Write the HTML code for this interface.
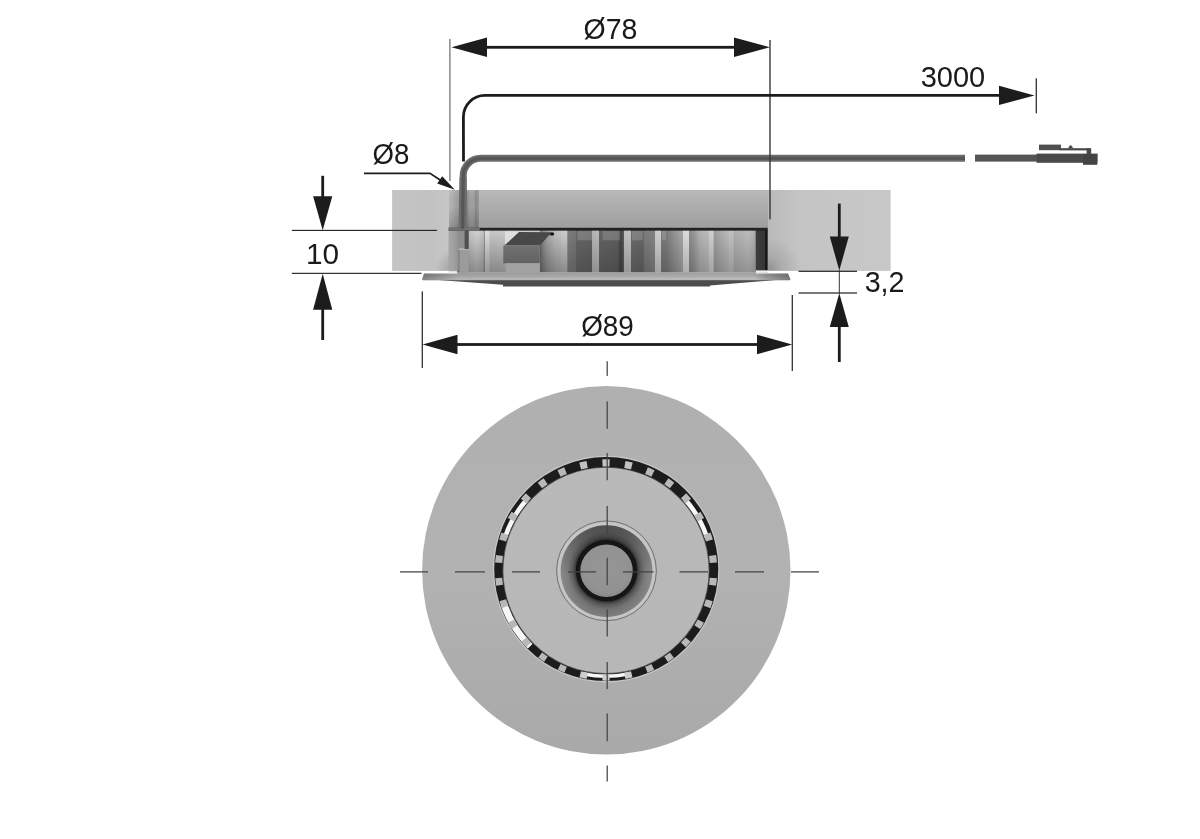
<!DOCTYPE html>
<html lang="en">
<head>
<meta charset="utf-8">
<title>Dimensional drawing</title>
<style>
html,body{margin:0;padding:0;background:#fff;}
body{width:1200px;height:839px;overflow:hidden;}
svg{display:block;}
text{font-family:"Liberation Sans",Arial,sans-serif;fill:#1a1a1a;}
#dimensions{opacity:0.999;}
</style>
</head>
<body>
<svg width="1200" height="839" viewBox="0 0 1200 839" role="img" aria-label="Dimensional drawing">
<defs>
<linearGradient id="gBoardMid" x1="0" y1="190" x2="0" y2="229" gradientUnits="userSpaceOnUse"><stop offset="0" stop-color="#b9b9b9"/><stop offset="1" stop-color="#9e9e9e"/></linearGradient>
<linearGradient id="gHole" x1="449" y1="0" x2="479" y2="0" gradientUnits="userSpaceOnUse"><stop offset="0" stop-color="#bababa"/><stop offset="0.3" stop-color="#9e9e9e"/><stop offset="0.62" stop-color="#8e8e8e"/><stop offset="0.7" stop-color="#a2a2a2"/><stop offset="0.84" stop-color="#a0a0a0"/><stop offset="0.88" stop-color="#8a8a8a"/><stop offset="1" stop-color="#9a9a9a"/></linearGradient>
<linearGradient id="gBoardL" x1="392" y1="0" x2="458" y2="0" gradientUnits="userSpaceOnUse"><stop offset="0" stop-color="#c4c4c4"/><stop offset="0.6" stop-color="#c2c2c2"/><stop offset="0.9" stop-color="#c6c6c6"/><stop offset="1" stop-color="#c8c8c8"/></linearGradient>
<linearGradient id="gBoardR" x1="768" y1="0" x2="890" y2="0" gradientUnits="userSpaceOnUse"><stop offset="0" stop-color="#bababa"/><stop offset="0.25" stop-color="#c4c4c4"/><stop offset="1" stop-color="#c8c8c8"/></linearGradient>
<linearGradient id="gSink" x1="457.3" y1="0" x2="767.7" y2="0" gradientUnits="userSpaceOnUse"><stop offset="0.0000" stop-color="#818181"/><stop offset="0.0039" stop-color="#9a9a9a"/><stop offset="0.0361" stop-color="#a0a0a0"/><stop offset="0.0370" stop-color="#bebebe"/><stop offset="0.0635" stop-color="#cecece"/><stop offset="0.0841" stop-color="#bebebe"/><stop offset="0.0860" stop-color="#959595"/><stop offset="0.0886" stop-color="#959595"/><stop offset="0.0899" stop-color="#dcdcdc"/><stop offset="0.1031" stop-color="#d8d8d8"/><stop offset="0.1047" stop-color="#c2c2c2"/><stop offset="0.1505" stop-color="#c6c6c6"/><stop offset="0.1569" stop-color="#d0d0d0"/><stop offset="0.2648" stop-color="#cacaca"/><stop offset="0.2664" stop-color="#757575"/><stop offset="0.2729" stop-color="#838383"/><stop offset="0.2890" stop-color="#a2a2a2"/><stop offset="0.3148" stop-color="#bababa"/><stop offset="0.3341" stop-color="#c2c2c2"/><stop offset="0.3354" stop-color="#c6c6c6"/><stop offset="0.3544" stop-color="#cacaca"/><stop offset="0.3553" stop-color="#7b7b7b"/><stop offset="0.3818" stop-color="#757575"/><stop offset="0.3837" stop-color="#656565"/><stop offset="0.4330" stop-color="#616161"/><stop offset="0.4340" stop-color="#b2b2b2"/><stop offset="0.4565" stop-color="#b8b8b8"/><stop offset="0.4575" stop-color="#636363"/><stop offset="0.5177" stop-color="#5d5d5d"/><stop offset="0.5226" stop-color="#494949"/><stop offset="0.5290" stop-color="#474747"/><stop offset="0.5364" stop-color="#5b5b5b"/><stop offset="0.5374" stop-color="#bcbcbc"/><stop offset="0.5596" stop-color="#c0c0c0"/><stop offset="0.5606" stop-color="#696969"/><stop offset="0.5983" stop-color="#656565"/><stop offset="0.6031" stop-color="#797979"/><stop offset="0.6363" stop-color="#838383"/><stop offset="0.6372" stop-color="#cacaca"/><stop offset="0.6569" stop-color="#cecece"/><stop offset="0.6579" stop-color="#777777"/><stop offset="0.6724" stop-color="#797979"/><stop offset="0.7014" stop-color="#939393"/><stop offset="0.7265" stop-color="#a6a6a6"/><stop offset="0.7274" stop-color="#d8d8d8"/><stop offset="0.7465" stop-color="#dcdcdc"/><stop offset="0.7474" stop-color="#898989"/><stop offset="0.7626" stop-color="#959595"/><stop offset="0.7819" stop-color="#b0b0b0"/><stop offset="0.8096" stop-color="#bababa"/><stop offset="0.8106" stop-color="#cccccc"/><stop offset="0.8251" stop-color="#cecece"/><stop offset="0.8260" stop-color="#9a9a9a"/><stop offset="0.8528" stop-color="#acacac"/><stop offset="0.8747" stop-color="#b8b8b8"/><stop offset="0.8756" stop-color="#c0c0c0"/><stop offset="0.8895" stop-color="#bebebe"/><stop offset="0.8905" stop-color="#acacac"/><stop offset="0.9288" stop-color="#b6b6b6"/><stop offset="0.9301" stop-color="#bababa"/><stop offset="0.9494" stop-color="#b4b4b4"/><stop offset="0.9604" stop-color="#a8a8a8"/><stop offset="0.9613" stop-color="#3c3c3c"/><stop offset="0.9913" stop-color="#363636"/><stop offset="0.9932" stop-color="#141414"/><stop offset="1.0000" stop-color="#141414"/></linearGradient>
<linearGradient id="gSinkV" x1="0" y1="231" x2="0" y2="272" gradientUnits="userSpaceOnUse"><stop offset="0" stop-color="#000" stop-opacity="0"/><stop offset="0.06" stop-color="#000" stop-opacity="0"/><stop offset="1" stop-color="#000" stop-opacity="0.2"/></linearGradient>
<linearGradient id="gFl" x1="0" y1="272" x2="0" y2="281" gradientUnits="userSpaceOnUse"><stop offset="0" stop-color="#9e9e9e"/><stop offset="0.5" stop-color="#acacac"/><stop offset="0.8" stop-color="#c0c0c0"/><stop offset="1" stop-color="#a0a0a0"/></linearGradient>
<linearGradient id="gFlH" x1="422" y1="0" x2="791" y2="0" gradientUnits="userSpaceOnUse"><stop offset="0" stop-color="#000" stop-opacity="0.3"/><stop offset="0.1" stop-color="#000" stop-opacity="0.04"/><stop offset="0.9" stop-color="#000" stop-opacity="0"/><stop offset="0.93" stop-color="#000" stop-opacity="0.15"/><stop offset="1" stop-color="#000" stop-opacity="0.35"/></linearGradient>
<linearGradient id="gCable" x1="0" y1="154.6" x2="0" y2="161.6" gradientUnits="userSpaceOnUse"><stop offset="0" stop-color="#6a6a6a"/><stop offset="0.5" stop-color="#505050"/><stop offset="1" stop-color="#5c5c5c"/></linearGradient>
<radialGradient id="gLens" cx="606.5" cy="570.8" r="46" gradientUnits="userSpaceOnUse"><stop offset="0.66" stop-color="#303030"/><stop offset="0.73" stop-color="#5c5c5c"/><stop offset="0.84" stop-color="#7c7c7c"/><stop offset="1" stop-color="#8c8c8c"/></radialGradient>
<radialGradient id="gCore" cx="606.5" cy="568" r="30" gradientUnits="userSpaceOnUse"><stop offset="0" stop-color="#969696"/><stop offset="0.8" stop-color="#929292"/><stop offset="1" stop-color="#888888"/></radialGradient>
<linearGradient id="gDisk" x1="0" y1="386" x2="0" y2="754" gradientUnits="userSpaceOnUse"><stop offset="0" stop-color="#b0b0b0"/><stop offset="0.5" stop-color="#b2b2b2"/><stop offset="1" stop-color="#a9a9a9"/></linearGradient>
<linearGradient id="gInner" x1="0" y1="466" x2="0" y2="675" gradientUnits="userSpaceOnUse"><stop offset="0" stop-color="#b9b9b9"/><stop offset="1" stop-color="#b7b7b7"/></linearGradient>
<linearGradient id="gStepL" x1="448.6" y1="0" x2="459" y2="0" gradientUnits="userSpaceOnUse"><stop offset="0" stop-color="#a8a8a8"/><stop offset="0.5" stop-color="#a0a0a0"/><stop offset="1" stop-color="#909090"/></linearGradient>
<linearGradient id="gStep" x1="458.6" y1="0" x2="468.8" y2="0" gradientUnits="userSpaceOnUse"><stop offset="0" stop-color="#6e6e6e"/><stop offset="0.15" stop-color="#9a9a9a"/><stop offset="1" stop-color="#9c9c9c"/></linearGradient>
<linearGradient id="gClipF" x1="0" y1="245" x2="0" y2="263" gradientUnits="userSpaceOnUse"><stop offset="0" stop-color="#727272"/><stop offset="1" stop-color="#626262"/></linearGradient>
<radialGradient id="gSh" cx="459" cy="271" r="24" gradientUnits="userSpaceOnUse"><stop offset="0" stop-color="#000" stop-opacity="0.26"/><stop offset="0.45" stop-color="#000" stop-opacity="0.14"/><stop offset="1" stop-color="#000" stop-opacity="0"/></radialGradient>
<linearGradient id="gLensV" x1="0" y1="524" x2="0" y2="617" gradientUnits="userSpaceOnUse"><stop offset="0" stop-color="#000" stop-opacity="0.44"/><stop offset="0.3" stop-color="#000" stop-opacity="0.14"/><stop offset="0.55" stop-color="#000" stop-opacity="0"/><stop offset="1" stop-color="#000" stop-opacity="0.1"/></linearGradient>
<clipPath id="cRing"><circle cx="606.25" cy="569.1" r="111.6"/></clipPath>
<linearGradient id="gHoleV" x1="0" y1="190" x2="0" y2="229" gradientUnits="userSpaceOnUse"><stop offset="0" stop-color="#fff" stop-opacity="0.1"/><stop offset="0.4" stop-color="#000" stop-opacity="0"/><stop offset="1" stop-color="#000" stop-opacity="0.2"/></linearGradient>
<radialGradient id="gShR" cx="768" cy="271" r="34" gradientUnits="userSpaceOnUse"><stop offset="0" stop-color="#000" stop-opacity="0.24"/><stop offset="0.4" stop-color="#000" stop-opacity="0.1"/><stop offset="1" stop-color="#000" stop-opacity="0"/></radialGradient>
<filter id="b1" x="-20%" y="-20%" width="140%" height="140%"><feGaussianBlur stdDeviation="0.6"/></filter>
</defs>
<g id="side-view">
<rect x="392.3" y="190" width="498.1" height="80.7" fill="#c4c4c4"/>
<rect x="392.3" y="190" width="65.7" height="80.7" fill="url(#gBoardL)"/>
<rect x="768" y="190" width="122.4" height="80.7" fill="url(#gBoardR)"/>
<rect x="768" y="236" width="36" height="34.7" fill="url(#gShR)"/>
<rect x="479" y="190" width="289" height="39" fill="url(#gBoardMid)"/>
<rect x="449" y="190" width="30" height="39" fill="url(#gHole)"/>
<rect x="449" y="190" width="30" height="39" fill="url(#gHoleV)"/>
<rect x="457.3" y="230" width="310.4" height="42.5" fill="url(#gSink)"/>
<rect x="457.3" y="230" width="298.1" height="42.5" fill="url(#gSinkV)"/>
<rect x="448.6" y="230" width="118.7" height="42.5" fill="url(#gSinkV)" opacity="0.65"/>
<rect x="448.6" y="230" width="10.4" height="40.7" fill="url(#gStepL)"/>
<rect x="434" y="246" width="14.6" height="24.7" fill="url(#gSh)"/>
<rect x="458.6" y="230" width="10" height="19" fill="#8e8e8e"/>
<rect x="458.6" y="248.5" width="10.2" height="24" fill="url(#gStep)"/>
<rect x="458.6" y="248.5" width="10.2" height="1.4" fill="#b8b8b8"/>
<rect x="464.6" y="228" width="4" height="21" fill="#505050"/>
<rect x="577.3" y="231" width="14.7" height="9.3" fill="#ffffff" opacity="0.16"/>
<rect x="602.7" y="231" width="17.3" height="9.3" fill="#ffffff" opacity="0.16"/>
<rect x="632" y="231" width="10.7" height="9.3" fill="#ffffff" opacity="0.16"/>
<rect x="662" y="231" width="4.0" height="9.3" fill="#ffffff" opacity="0.16"/>
<polygon points="519,232 551,232.3 554,233.2 554,235 551.5,235.6 549,235.2 540,245.6 504,245.6" fill="#484848"/>
<ellipse cx="552.2" cy="234" rx="2" ry="1.4" fill="#161616"/>
<rect x="503.3" y="245.6" width="36.2" height="17.7" fill="url(#gClipF)"/>
<polygon points="539.6,245.6 541.2,244 541.2,261 539.6,263" fill="#5c5c5c"/>
<rect x="506" y="263.3" width="33.6" height="9.2" fill="#a2a2a2"/>
<polygon points="505,231.2 519.5,231.2 505,245" fill="#e4e4e4" opacity="0.75"/>
<rect x="755.8" y="270.4" width="13" height="2.4" fill="#f2f2f2"/>
<rect x="448.7" y="227.8" width="319" height="2.8" fill="#222222"/>
<rect x="448.7" y="227.6" width="31" height="3" fill="#727272"/>
<path d="M438,280 L776,280 L710,285.4 L710,286.6 L503,286.6 L503,284.7 Z" fill="#4c4c4c"/>
<path d="M424,273.5 L457.3,273.5 L457.3,272.2 L756,272.2 L756,273.4 L788,273.4 L790.6,279.6 L789.5,280.2 L423.2,280.2 L422,279.4 Z" fill="url(#gFl)"/>
<path d="M424,273.5 L457.3,273.5 L457.3,272.2 L756,272.2 L756,273.4 L788,273.4 L790.6,279.6 L789.5,280.2 L423.2,280.2 L422,279.4 Z" fill="url(#gFlH)"/>
<path d="M462.6,229 L463.2,176 A17.5,17.5 0 0 1 480.7,158.35 L965,158.35" fill="none" stroke="#6c6c6c" stroke-width="7"/>
<polygon points="458.4,229 459.6,177 466.7,177 466.8,229" fill="#6c6c6c"/>
<path d="M462.6,229 L463.2,176 A17.5,17.5 0 0 1 480.7,158.35 L965,158.35" fill="none" stroke="#565656" stroke-width="3.2"/>
<rect x="975" y="154.6" width="63" height="7" fill="#555"/>
<rect x="1036.5" y="153.6" width="61" height="9.2" fill="#4a4a4a"/>
<rect x="1083" y="154" width="14.3" height="10.8" fill="#444"/>
<rect x="1039" y="144.6" width="22" height="5.6" fill="#505050"/>
<rect x="1060" y="148.2" width="30" height="2.2" fill="#4a4a4a"/>
<rect x="1086.6" y="148.2" width="4.6" height="6" fill="#4a4a4a"/>
<polygon points="1067.8,148.6 1070,145.2 1071.4,145.6 1073.4,148.6" fill="#4a4a4a"/>
</g>
<g id="dimensions">
<rect x="449.20" y="39.0" width="1.4" height="142.0" fill="#808080"/>
<rect x="769.30" y="40.0" width="1.4" height="179.3" fill="#383838"/>
<rect x="485.0" y="45.90" width="251.0" height="2.8" fill="#1c1c1c"/>
<polygon points="451.5,47.3 487,37.6 487,57" fill="#1c1c1c"/>
<polygon points="769.9,47.3 734,37.6 734,57" fill="#1c1c1c"/>
<text transform="translate(610.50,39) scale(0.975,1)" text-anchor="middle" font-size="29.2">Ø78</text>
<path d="M463.5,161.6 L463.4,116.9 A21.5,21.5 0 0 1 484.9,95.4 L1001,95.4" fill="none" stroke="#1c1c1c" stroke-width="2.8"/>
<polygon points="1034.5,95.4 999,85.8 999,105" fill="#1c1c1c"/>
<rect x="1035.65" y="78.3" width="1.3" height="35.0" fill="#303030"/>
<text transform="translate(952.90,86.6) scale(1.0,1)" text-anchor="middle" font-size="29">3000</text>
<path d="M364,173.4 L430,173.4 L442,181.3" fill="none" stroke="#1c1c1c" stroke-width="1.7"/>
<polygon points="454.8,189.8 437.2,183.6 442.2,176.2" fill="#1c1c1c"/>
<text transform="translate(391.00,164.2) scale(0.947,1)" text-anchor="middle" font-size="29.2">Ø8</text>
<rect x="291.8" y="229.83" width="145.2" height="1.15" fill="#262626"/>
<rect x="291.8" y="272.78" width="129.7" height="1.15" fill="#262626"/>
<rect x="321.30" y="175.8" width="2.8" height="22.2" fill="#1c1c1c"/>
<rect x="321.30" y="308.0" width="2.8" height="32.0" fill="#1c1c1c"/>
<polygon points="322.7,230.2 313.1,196.2 332.3,196.2" fill="#1c1c1c"/>
<polygon points="322.7,273.8 313.1,309.8 332.3,309.8" fill="#1c1c1c"/>
<text transform="translate(322.60,263.6) scale(1.02,1)" text-anchor="middle" font-size="29.2">10</text>
<rect x="798.5" y="270.65" width="58.5" height="1.3" fill="#303030"/>
<rect x="798.5" y="292.35" width="58.5" height="1.3" fill="#303030"/>
<rect x="837.90" y="203.6" width="2.8" height="34.4" fill="#1c1c1c"/>
<rect x="837.90" y="325.0" width="2.8" height="37.0" fill="#1c1c1c"/>
<rect x="838.80" y="270.0" width="1.0" height="24.0" fill="#333"/>
<polygon points="839.3,270.6 829.8,236.4 848.8,236.4" fill="#1c1c1c"/>
<polygon points="839.3,293.2 829.8,327 848.8,327" fill="#1c1c1c"/>
<text transform="translate(884.60,292) scale(0.984,1)" text-anchor="middle" font-size="29.2">3,2</text>
<rect x="421.65" y="291.4" width="1.3" height="76.6" fill="#303030"/>
<rect x="791.65" y="295.0" width="1.3" height="76.0" fill="#303030"/>
<rect x="456.0" y="343.10" width="302.0" height="2.8" fill="#1c1c1c"/>
<polygon points="422.6,344.5 457.5,334.8 457.5,354.2" fill="#1c1c1c"/>
<polygon points="792.2,344.5 757,334.8 757,354.2" fill="#1c1c1c"/>
<text transform="translate(607.50,336) scale(0.956,1)" text-anchor="middle" font-size="29.2">Ø89</text>
</g>
<g id="bottom-view">
<circle cx="606.3" cy="570.3" r="184.2" fill="url(#gDisk)"/>
<circle cx="606.25" cy="569.1" r="112.7" fill="none" stroke="#cfcfcf" stroke-width="1.2" opacity="0.7"/>
<circle cx="606.25" cy="569.1" r="112.0" fill="#1c1c1c"/>
<g clip-path="url(#cRing)">
<path d="M684.92,499.34 A106.2,106.2 0 0 1 707.00,537.58" fill="none" stroke="#f6f6f6" stroke-width="4.6" />
<path d="M505.00,537.58 A106.2,106.2 0 0 1 527.08,499.34" fill="none" stroke="#f6f6f6" stroke-width="4.6" />
<path d="M628.00,673.89 A105.8,105.8 0 0 1 584.00,673.89" fill="none" stroke="#f6f6f6" stroke-width="3.6" />
<path d="M528.93,647.47 A109,109 0 0 1 502.33,604.08" fill="none" stroke="#f6f6f6" stroke-width="10" />
<path d="M602.43,462.86 A107.6,107.6 0 0 1 609.57,462.86" fill="none" stroke="#c2c2c2" stroke-width="7.2" />
<path d="M624.87,464.47 A107.6,107.6 0 0 1 631.85,465.95" fill="none" stroke="#c2c2c2" stroke-width="7.2" />
<path d="M646.48,470.71 A107.6,107.6 0 0 1 653.00,473.61" fill="none" stroke="#b8b8b8" stroke-width="7.2" />
<path d="M666.32,481.30 A107.6,107.6 0 0 1 672.10,485.49" fill="none" stroke="#b8b8b8" stroke-width="7.2" />
<path d="M683.53,495.79 A107.6,107.6 0 0 1 688.31,501.09" fill="none" stroke="#b8b8b8" stroke-width="7.2" />
<path d="M697.35,513.54 A107.6,107.6 0 0 1 700.92,519.72" fill="none" stroke="#b8b8b8" stroke-width="7.2" />
<path d="M707.18,533.78 A107.6,107.6 0 0 1 709.38,540.56" fill="none" stroke="#b8b8b8" stroke-width="7.2" />
<path d="M712.58,555.61 A107.6,107.6 0 0 1 713.32,562.71" fill="none" stroke="#b8b8b8" stroke-width="7.2" />
<path d="M713.32,578.09 A107.6,107.6 0 0 1 712.58,585.19" fill="none" stroke="#b8b8b8" stroke-width="7.2" />
<path d="M709.38,600.24 A107.6,107.6 0 0 1 707.18,607.02" fill="none" stroke="#b8b8b8" stroke-width="7.2" />
<path d="M700.92,621.08 A107.6,107.6 0 0 1 697.35,627.26" fill="none" stroke="#b8b8b8" stroke-width="7.2" />
<path d="M688.31,639.71 A107.6,107.6 0 0 1 683.53,645.01" fill="none" stroke="#b8b8b8" stroke-width="7.2" />
<path d="M672.10,655.31 A107.6,107.6 0 0 1 666.32,659.50" fill="none" stroke="#b8b8b8" stroke-width="7.2" />
<path d="M653.00,667.19 A107.6,107.6 0 0 1 646.48,670.09" fill="none" stroke="#b8b8b8" stroke-width="7.2" />
<path d="M631.85,674.85 A107.6,107.6 0 0 1 624.87,676.33" fill="none" stroke="#cccccc" stroke-width="7.2" />
<path d="M609.57,677.94 A107.6,107.6 0 0 1 602.43,677.94" fill="none" stroke="#cccccc" stroke-width="7.2" />
<path d="M587.13,676.33 A107.6,107.6 0 0 1 580.15,674.85" fill="none" stroke="#cccccc" stroke-width="7.2" />
<path d="M565.52,670.09 A107.6,107.6 0 0 1 559.00,667.19" fill="none" stroke="#b8b8b8" stroke-width="7.2" />
<path d="M545.68,659.50 A107.6,107.6 0 0 1 539.90,655.31" fill="none" stroke="#b8b8b8" stroke-width="7.2" />
<path d="M528.47,645.01 A107.6,107.6 0 0 1 523.69,639.71" fill="none" stroke="#b8b8b8" stroke-width="7.2" />
<path d="M514.65,627.26 A107.6,107.6 0 0 1 511.08,621.08" fill="none" stroke="#b8b8b8" stroke-width="7.2" />
<path d="M504.82,607.02 A107.6,107.6 0 0 1 502.62,600.24" fill="none" stroke="#b8b8b8" stroke-width="7.2" />
<path d="M499.42,585.19 A107.6,107.6 0 0 1 498.68,578.09" fill="none" stroke="#b8b8b8" stroke-width="7.2" />
<path d="M498.68,562.71 A107.6,107.6 0 0 1 499.42,555.61" fill="none" stroke="#b8b8b8" stroke-width="7.2" />
<path d="M502.62,540.56 A107.6,107.6 0 0 1 504.82,533.78" fill="none" stroke="#b8b8b8" stroke-width="7.2" />
<path d="M511.08,519.72 A107.6,107.6 0 0 1 514.65,513.54" fill="none" stroke="#b8b8b8" stroke-width="7.2" />
<path d="M523.69,501.09 A107.6,107.6 0 0 1 528.47,495.79" fill="none" stroke="#b8b8b8" stroke-width="7.2" />
<path d="M539.90,485.49 A107.6,107.6 0 0 1 545.68,481.30" fill="none" stroke="#b8b8b8" stroke-width="7.2" />
<path d="M559.00,473.61 A107.6,107.6 0 0 1 565.52,470.71" fill="none" stroke="#b8b8b8" stroke-width="7.2" />
<path d="M580.15,465.95 A107.6,107.6 0 0 1 587.13,464.47" fill="none" stroke="#c2c2c2" stroke-width="7.2" />
</g>
<circle cx="606.0" cy="570.4" r="103.5" fill="#585858"/>
<circle cx="606.0" cy="570.4" r="102.6" fill="url(#gInner)"/>
<circle cx="606.5" cy="570.9" r="48.8" fill="#c6c6c6"/>
<circle cx="606.5" cy="570.8" r="49.9" fill="none" stroke="#6a6a6a" stroke-width="0.9"/>
<circle cx="606.5" cy="571.1" r="45.9" fill="url(#gLens)"/>
<circle cx="606.5" cy="571.1" r="45.9" fill="url(#gLensV)"/>
<circle cx="606.5" cy="570.7" r="28.4" fill="url(#gCore)"/>
<circle cx="606.5" cy="570.7" r="28.4" fill="none" stroke="#121212" stroke-width="4.3" filter="url(#b1)"/>
<rect x="606.58" y="361.3" width="1.25" height="14.6" fill="#444444"/>
<rect x="606.58" y="401.4" width="1.25" height="27.4" fill="#444444"/>
<rect x="606.58" y="453.1" width="1.25" height="27.1" fill="#444444"/>
<rect x="606.58" y="506.0" width="1.25" height="27.5" fill="#444444"/>
<rect x="606.58" y="557.7" width="1.25" height="27.5" fill="#444444"/>
<rect x="606.58" y="609.3" width="1.25" height="27.2" fill="#444444"/>
<rect x="606.58" y="662.0" width="1.25" height="27.2" fill="#444444"/>
<rect x="606.58" y="713.5" width="1.25" height="27.7" fill="#444444"/>
<rect x="606.58" y="765.5" width="1.25" height="16.0" fill="#444444"/>
<rect x="400.0" y="571.27" width="28.0" height="1.25" fill="#444444"/>
<rect x="455.0" y="571.27" width="30.0" height="1.25" fill="#444444"/>
<rect x="512.0" y="571.27" width="28.0" height="1.25" fill="#444444"/>
<rect x="568.0" y="571.27" width="28.0" height="1.25" fill="#444444"/>
<rect x="623.0" y="571.27" width="30.5" height="1.25" fill="#444444"/>
<rect x="679.5" y="571.27" width="28.5" height="1.25" fill="#444444"/>
<rect x="735.0" y="571.27" width="29.0" height="1.25" fill="#444444"/>
<rect x="791.0" y="571.27" width="28.0" height="1.25" fill="#444444"/>
</g>
</svg>
</body>
</html>
